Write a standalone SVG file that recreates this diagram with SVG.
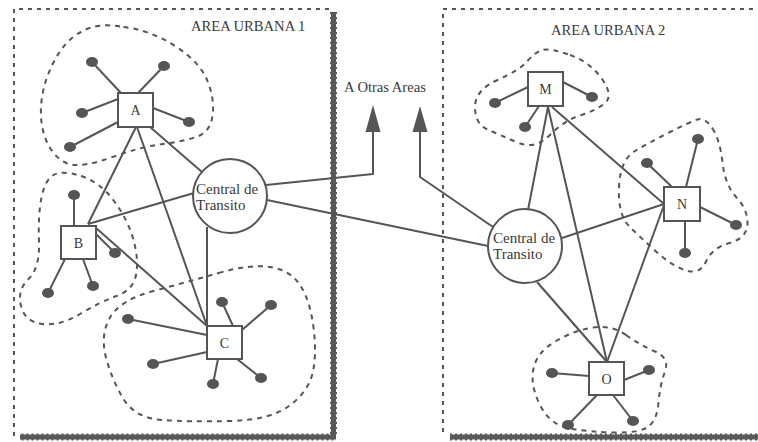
<svg xmlns="http://www.w3.org/2000/svg" width="758" height="442" viewBox="0 0 758 442">
  <style>
    .frame { fill: none; stroke: #555; stroke-width: 2; stroke-dasharray: 4 5; }
    .wall { fill: none; stroke: #585858; stroke-width: 5; }
    .wall-edge { fill: none; stroke: #585858; stroke-width: 7; stroke-dasharray: 2 3; }
    .zone { fill: none; stroke: #555; stroke-width: 2; stroke-dasharray: 5 5; stroke-linejoin: round; }
    .link { fill: none; stroke: #555; stroke-width: 2; stroke-linejoin: round; }
    .stub { stroke: #555; stroke-width: 2; }
    .dot { fill: #555; }
    .box { fill: #fff; stroke: #555; stroke-width: 2; }
    .hub { fill: #fff; stroke: #555; stroke-width: 2; }
    .label { font-family: "Liberation Serif", "Times New Roman", serif; fill: #3a3a3a; }
    .node-label { font-size: 14px; text-anchor: middle; }
    .hub-label { font-size: 15px; }
    .area-label { font-size: 14.6px; }
    .arrowhead { fill: #555; }
  </style>

  <!-- urban area frames -->
  <g id="frames">
    <path class="frame" d="M14,436 V9 H331"/>
    <path class="frame" d="M443,432 V9 H758"/>
    <path class="wall" d="M333.5,12 V437 H20"/>
    <path class="wall-edge" d="M333.5,12 V437 H20"/>
    <path class="wall" d="M450,437 H758"/>
    <path class="wall-edge" d="M450,437 H758"/>
    <text class="label area-label" x="191" y="31">AREA URBANA 1</text>
    <text class="label area-label" x="551" y="35">AREA URBANA 2</text>
    <text class="label area-label" x="344" y="92">A Otras Areas</text>
  </g>

  <!-- local service zones -->
  <g id="zones">
    <path class="zone" d="M123.5,27 Q150,30 175,46 Q200,62 207.5,81 Q215,100 212.5,116 Q210,132 197.5,136.5 Q185,141 162.5,144 Q140,147 112.5,157 Q85,167 71.5,164.5 Q58,162 49,146 Q40,130 41,107.5 Q42,85 53.5,62.5 Q65,40 81,32 Q97,22 123.5,27 Z"/>
    <path class="zone" d="M81,176 Q100,182 114,201 Q128,220 133.5,240 Q139,260 136,275 Q133,290 116.5,296 Q100,302 80,314 Q60,326 42.5,324 Q25,322 21,306 Q17,290 28.5,279 Q40,268 39,241.5 Q38,215 41.5,197.5 Q45,180 53.5,175 Q62,170 81,176 Z"/>
    <path class="zone" d="M218.5,273 Q250,264 270,267 Q290,270 300,285 Q310,300 313.5,327.5 Q317,355 312.5,373.5 Q308,392 289,406 Q270,420 230,421 Q190,422 162.5,420 Q135,418 123.5,399 Q112,380 106,357.5 Q100,335 110,317.5 Q120,300 153.5,291 Q187,282 218.5,273 Z"/>
    <path class="zone" d="M570,55 Q590,62 602,79 Q614,96 604.5,103.5 Q595,111 580,115.5 Q565,120 550,135 Q535,150 517.5,142.5 Q500,135 487.5,129.5 Q475,124 475,107 Q475,90 497.5,80 Q520,70 527.5,61 Q535,52 542.5,50 Q550,48 570,55 Z"/>
    <path class="zone" d="M712.5,128.5 Q720,140 722.5,162.5 Q725,185 736.5,197.5 Q748,210 747.5,224 Q747,238 729.5,243 Q712,248 706,261.5 Q700,275 686,270.5 Q672,266 656,251.5 Q640,237 629,226 Q618,215 619,187.5 Q620,160 635,151 Q650,142 670,132 Q690,122 697.5,119.5 Q705,117 712.5,128.5 Z"/>
    <path class="zone" d="M626,335 Q640,345 655,351.5 Q670,358 665,371.5 Q660,385 658.5,402.5 Q657,420 648.5,426.5 Q640,433 615,432.5 Q590,432 570,428.5 Q550,425 540,405 Q530,385 533.5,368.5 Q537,352 556,341 Q575,330 593.5,327.5 Q612,325 626,335 Z"/>
  </g>

  <!-- trunk connections -->
  <g id="connectors">
    <line class="link" x1="136" y1="127" x2="88" y2="224"/>
    <line class="link" x1="137" y1="127" x2="207" y2="326"/>
    <line class="link" x1="150" y1="127" x2="202" y2="172"/>
    <line class="link" x1="88" y1="224" x2="194" y2="193"/>
    <line class="link" x1="96" y1="228" x2="207" y2="326"/>
    <line class="link" x1="207" y1="227" x2="207" y2="326"/>
    <polyline class="link" points="266,185 373,174 373,130"/>
    <polygon class="arrowhead" points="373,105 365.5,132 380.5,132"/>
    <line class="link" x1="267" y1="200" x2="488" y2="246"/>
    <polyline class="link" points="493,227 420,177 420,130"/>
    <polygon class="arrowhead" points="420,106 412.5,132 427.5,132"/>
    <line class="link" x1="548" y1="107" x2="528" y2="210"/>
    <line class="link" x1="548" y1="107" x2="607" y2="362"/>
    <line class="link" x1="552" y1="107" x2="664" y2="204"/>
    <line class="link" x1="562" y1="238" x2="664" y2="204"/>
    <line class="link" x1="664" y1="205" x2="607" y2="362"/>
    <line class="link" x1="537" y1="282" x2="607" y2="362"/>
  </g>

  <!-- transit exchanges -->
  <g id="central-1">
    <circle class="hub" cx="230" cy="196" r="37"/>
    <text class="label hub-label" x="196" y="194">Central de</text>
    <text class="label hub-label" x="196" y="210">Transito</text>
  </g>
  <g id="central-2">
    <circle class="hub" cx="525" cy="246" r="37"/>
    <text class="label hub-label" x="493" y="243">Central de</text>
    <text class="label hub-label" x="493" y="259">Transito</text>
  </g>

  <!-- local exchanges with subscriber lines -->
  <g id="node-a">
    <line class="stub" x1="121" y1="93" x2="92" y2="62"/>
    <line class="stub" x1="138" y1="93" x2="164" y2="66"/>
    <line class="stub" x1="118" y1="99" x2="82" y2="113"/>
    <line class="stub" x1="153" y1="108" x2="189" y2="122"/>
    <line class="stub" x1="118" y1="122" x2="70" y2="147"/>
    <ellipse class="dot" cx="92" cy="62" rx="6" ry="5"/>
    <ellipse class="dot" cx="164" cy="66" rx="6" ry="5"/>
    <ellipse class="dot" cx="82" cy="113" rx="6" ry="5"/>
    <ellipse class="dot" cx="189" cy="122" rx="6" ry="5"/>
    <ellipse class="dot" cx="70" cy="147" rx="6" ry="5"/>
    <rect class="box" x="118" y="93" width="35" height="34"/>
    <text class="label node-label" x="135.5" y="115">A</text>
  </g>

  <g id="node-b">
    <line class="stub" x1="74" y1="226" x2="74" y2="195"/>
    <line class="stub" x1="96" y1="234" x2="115" y2="253"/>
    <line class="stub" x1="65" y1="259" x2="48" y2="293"/>
    <line class="stub" x1="83" y1="259" x2="93" y2="286"/>
    <ellipse class="dot" cx="74" cy="195" rx="6" ry="5"/>
    <ellipse class="dot" cx="115" cy="253" rx="6" ry="5"/>
    <ellipse class="dot" cx="48" cy="293" rx="6" ry="5"/>
    <ellipse class="dot" cx="93" cy="286" rx="6" ry="5"/>
    <rect class="box" x="61" y="226" width="35" height="33"/>
    <text class="label node-label" x="78.5" y="248">B</text>
  </g>

  <g id="node-c">
    <line class="stub" x1="233" y1="326" x2="222" y2="302"/>
    <line class="stub" x1="242" y1="330" x2="271" y2="305"/>
    <line class="stub" x1="207" y1="335" x2="128" y2="319"/>
    <line class="stub" x1="207" y1="352" x2="153" y2="364"/>
    <line class="stub" x1="218" y1="359" x2="213" y2="384"/>
    <line class="stub" x1="237" y1="359" x2="261" y2="378"/>
    <ellipse class="dot" cx="222" cy="302" rx="6" ry="5"/>
    <ellipse class="dot" cx="271" cy="305" rx="6" ry="5"/>
    <ellipse class="dot" cx="128" cy="319" rx="6" ry="5"/>
    <ellipse class="dot" cx="153" cy="364" rx="6" ry="5"/>
    <ellipse class="dot" cx="213" cy="384" rx="6" ry="5"/>
    <ellipse class="dot" cx="261" cy="378" rx="6" ry="5"/>
    <rect class="box" x="207" y="326" width="35" height="33"/>
    <text class="label node-label" x="224.5" y="348">C</text>
  </g>

  <g id="node-m">
    <line class="stub" x1="528" y1="87" x2="495" y2="103"/>
    <line class="stub" x1="563" y1="82" x2="592" y2="97"/>
    <line class="stub" x1="539" y1="106" x2="525" y2="127"/>
    <ellipse class="dot" cx="495" cy="103" rx="6" ry="5"/>
    <ellipse class="dot" cx="592" cy="97" rx="6" ry="5"/>
    <ellipse class="dot" cx="525" cy="127" rx="6" ry="5"/>
    <rect class="box" x="528" y="72" width="35" height="34"/>
    <text class="label node-label" x="545.5" y="94">M</text>
  </g>

  <g id="node-n">
    <line class="stub" x1="672" y1="187" x2="647" y2="163"/>
    <line class="stub" x1="686" y1="187" x2="698" y2="139"/>
    <line class="stub" x1="700" y1="207" x2="736" y2="225"/>
    <line class="stub" x1="685" y1="221" x2="685" y2="253"/>
    <ellipse class="dot" cx="647" cy="163" rx="6" ry="5"/>
    <ellipse class="dot" cx="698" cy="139" rx="6" ry="5"/>
    <ellipse class="dot" cx="736" cy="225" rx="6" ry="5"/>
    <ellipse class="dot" cx="685" cy="253" rx="6" ry="5"/>
    <rect class="box" x="664" y="187" width="36" height="34"/>
    <text class="label node-label" x="682" y="209">N</text>
  </g>

  <g id="node-o">
    <line class="stub" x1="589" y1="376" x2="552" y2="373"/>
    <line class="stub" x1="624" y1="380" x2="649" y2="370"/>
    <line class="stub" x1="597" y1="395" x2="568" y2="425"/>
    <line class="stub" x1="613" y1="395" x2="633" y2="421"/>
    <ellipse class="dot" cx="552" cy="373" rx="6" ry="5"/>
    <ellipse class="dot" cx="649" cy="370" rx="6" ry="5"/>
    <ellipse class="dot" cx="568" cy="425" rx="6" ry="5"/>
    <ellipse class="dot" cx="633" cy="421" rx="6" ry="5"/>
    <rect class="box" x="589" y="362" width="35" height="33"/>
    <text class="label node-label" x="606.5" y="384">O</text>
  </g>
</svg>
